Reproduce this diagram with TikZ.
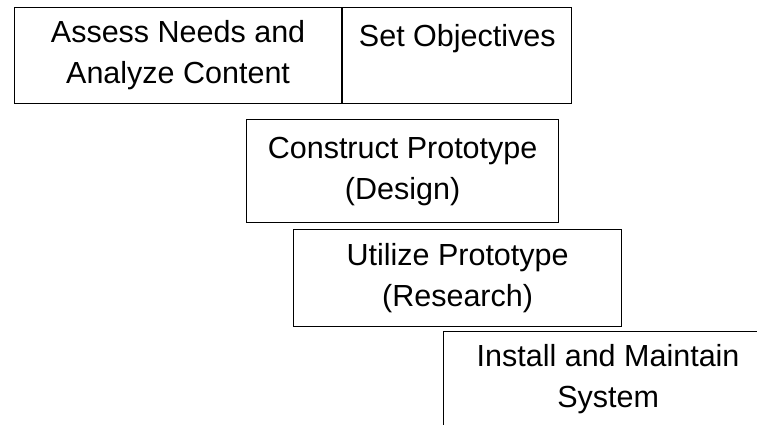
\documentclass[tikz,border=0pt]{standalone}
\usepackage{fontspec}
\setmainfont{Liberation Sans}
\usetikzlibrary{positioning}

\tikzset{
  phasebox/.style={draw=black, line width=1.2pt, inner sep=0pt, align=center,
    font=\fontsize{30.5}{41}\selectfont},
}

\begin{document}
\begin{tikzpicture}[x=1pt,y=-1pt]
  \useasboundingbox (0,0) rectangle (757,425);
  % top row
  \node[phasebox, anchor=north west, minimum width=327pt, minimum height=96pt]
    (assess) at (14,7) {Assess Needs and\\Analyze Content};
  \node[phasebox, minimum width=229pt, minimum height=96pt, right=0pt of assess]
    (objectives) {Set Objectives\\\mbox{}};
  % staircase
  \node[phasebox, anchor=north west, minimum width=312pt, minimum height=103pt]
    (construct) at (246,119) {Construct Prototype\\(Design)};
  \node[phasebox, anchor=north west, minimum width=328pt, minimum height=97pt]
    (utilize) at (293,229) {Utilize Prototype\\(Research)};
  \node[phasebox, anchor=north west, minimum width=329pt, minimum height=96pt]
    (install) at (443,331) {Install and Maintain\\System};
\end{tikzpicture}
\end{document}
